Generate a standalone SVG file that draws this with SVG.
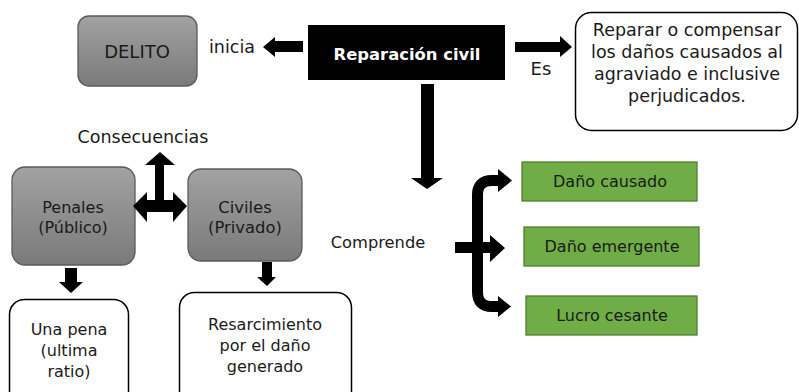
<svg xmlns="http://www.w3.org/2000/svg" width="799" height="392" viewBox="0 0 799 392">
<defs>
<linearGradient id="gray" x1="0" y1="0" x2="0" y2="1">
<stop offset="0" stop-color="#a2a2a2"/>
<stop offset="1" stop-color="#7a7a7a"/>
</linearGradient>
</defs>
<style>
text{font-family:"DejaVu Sans","Liberation Sans",sans-serif;fill:#1a1a1a;text-anchor:middle}
.g{fill:url(#gray);stroke:#5a5a5a;stroke-width:1.3}
.w{fill:#fff;stroke:#000;stroke-width:1.5}
.gr{fill:#70ad47;stroke:#507e32;stroke-width:1.3}
.a{fill:#000}
.s16{font-size:16px}
.s17{font-size:17.5px}
</style>
<rect width="799" height="392" fill="#fff"/>
<g id="delito"><rect class="g" x="78" y="16" width="119" height="70" rx="11"/><text class="s17" x="137" y="58" style="font-size:18px">DELITO</text></g>
<g id="reparacion"><rect x="308" y="25" width="197" height="55" fill="#000"/><text x="407" y="60" style="font-size:16.4px;font-weight:bold;fill:#fff">Reparación civil</text></g>
<g id="definicion"><rect class="w" x="575.5" y="12.5" width="222" height="118" rx="16"/>
<text class="s17" x="687" y="36">Reparar o compensar</text>
<text class="s17" x="687" y="58">los daños causados al</text>
<text class="s17" x="687" y="80">agraviado e inclusive</text>
<text class="s17" x="687" y="102">perjudicados.</text></g>
<g id="penales"><rect class="g" x="12" y="167" width="123" height="98" rx="13"/><text class="s16" x="73" y="213">Penales</text><text class="s16" x="73" y="233">(Público)</text></g>
<g id="civiles"><rect class="g" x="188" y="169" width="114" height="92" rx="13"/><text class="s16" x="245" y="213" style="font-size:16.4px">Civiles</text><text class="s16" x="245" y="233" style="font-size:16.4px">(Privado)</text></g>
<g id="pena"><rect class="w" x="9.5" y="299.5" width="119" height="110" rx="15"/><text class="s16" x="69" y="335">Una pena</text><text class="s16" x="69" y="356">(ultima</text><text class="s16" x="69" y="377">ratio)</text></g>
<g id="resarcimiento"><rect class="w" x="179.5" y="292.5" width="172" height="117" rx="15"/><text class="s16" x="265" y="330">Resarcimiento</text><text class="s16" x="265" y="351">por el daño</text><text class="s16" x="265" y="372">generado</text></g>
<g id="dano-causado"><rect class="gr" x="522" y="162" width="175" height="39"/><text class="s16" x="610" y="187">Daño causado</text></g>
<g id="dano-emergente"><rect class="gr" x="524" y="227" width="175" height="39"/><text class="s16" x="612" y="252">Daño emergente</text></g>
<g id="lucro-cesante"><rect class="gr" x="526" y="296" width="171" height="39"/><text class="s16" x="612" y="321">Lucro cesante</text></g>
<g id="labels">
<text x="232" y="53" style="font-size:17.5px">inicia</text>
<text x="541" y="75" style="font-size:18px">Es</text>
<text x="143" y="143" style="font-size:17.5px">Consecuencias</text>
<text x="378" y="248" class="s16" style="font-size:16.3px">Comprende</text>
</g>
<g id="connectors">
<polygon class="a" points="303,41 275,41 275,37 263,47 275,57 275,52 303,52"/>
<polygon class="a" points="515,42 560,42 560,36 572,47 560,57 560,52 515,52"/>
<polygon class="a" points="421,84 434,84 434,178 443,178 427,189 411,178 421,178"/>
<polygon class="a" points="155,206 155,165 145,165 160,152 175,165 164,165 164,206"/>
<polygon class="a" points="147,200 173,200 173,192 187,206 173,222 173,212 147,212 147,222 133,206 147,192"/>
<polygon class="a" points="65,268 77,268 77,282 83,282 71,293 59,282 65,282"/>
<polygon class="a" points="262,262 272,262 272,277 276,277 267,286 257,277 262,277"/>
<path d="M499 180.5 H492 Q477.5 180.5 477.5 195 V292 Q477.5 306.5 492 306.5 H499" fill="none" stroke="#000" stroke-width="11"/>
<polygon class="a" points="498,169 512,180.5 498,192"/>
<polygon class="a" points="498,296 511,306.5 498,317"/>
<polygon class="a" points="455,242 490,242 490,235 505,248 490,262 490,253 455,253"/>
</g>
</svg>
